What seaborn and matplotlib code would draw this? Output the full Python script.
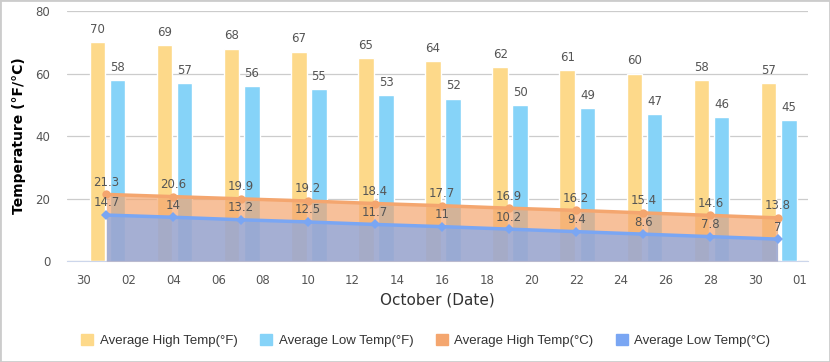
import pandas as pd
import numpy as np
import matplotlib
matplotlib.use('Agg')
import matplotlib.pyplot as plt
import matplotlib.dates as mdates
from matplotlib.patches import Patch
import seaborn as sns

# Data
dates = pd.date_range('2023-10-01', '2023-10-31', freq='3D')
high_f = [70, 69, 68, 67, 65, 64, 62, 61, 60, 58, 57]
low_f = [58, 57, 56, 55, 53, 52, 50, 49, 47, 46, 45]
high_c = [21.3, 20.6, 19.9, 19.2, 18.4, 17.7, 16.9, 16.2, 15.4, 14.6, 13.8]
low_c = [14.7, 14, 13.2, 12.5, 11.7, 11, 10.2, 9.4, 8.6, 7.8, 7]
tick_dates = pd.date_range('2023-09-30', '2023-11-01', freq='2D')

c_high_f = '#fdd98a'
c_low_f = '#86d3f8'
c_high_c = '#f4a66f'
c_low_c = '#7aa6f3'
txt = '#555555'

sns.set_style('white')
plt.rcParams['font.family'] = ['DejaVu Sans']

df = pd.DataFrame({'date': dates, 'high_f': high_f, 'low_f': low_f,
                   'high_c': high_c, 'low_c': low_c})
df['x'] = mdates.date2num(df['date'])

fig = plt.figure(figsize=(8.3, 3.62), dpi=100)
ax = fig.add_axes([0.0807, 0.279, 0.8928, 0.6906])

# bars (°F)
ax.bar(df['x'] - 0.4, df['high_f'], width=0.7, color=c_high_f, zorder=2)
ax.bar(df['x'] + 0.5, df['low_f'], width=0.7, color=c_low_f, zorder=2)
for x, v in zip(df['x'], df['high_f']):
    ax.text(x - 0.4, v + 2, str(v), ha='center', va='bottom', fontsize=8.5, color=txt, zorder=6)
for x, v in zip(df['x'], df['low_f']):
    ax.text(x + 0.5, v + 2, str(v), ha='center', va='bottom', fontsize=8.5, color=txt, zorder=6)

# areas (°C)
ax.fill_between(df['x'], df['high_c'], 0, color=c_high_c, alpha=0.7, lw=0, zorder=3)
ax.fill_between(df['x'], df['low_c'], 0, color=c_low_c, alpha=0.65, lw=0, zorder=4)
sns.lineplot(data=df, x='x', y='high_c', color=c_high_c, lw=2.5, marker='o',
             markersize=6, markeredgewidth=0, ax=ax, zorder=5)
sns.lineplot(data=df, x='x', y='low_c', color=c_low_c, lw=2.5, marker='D',
             markersize=5, markeredgewidth=0, ax=ax, zorder=5)
for x, v in zip(df['x'], df['high_c']):
    ax.text(x, v + 1.8, f'{v:g}', ha='center', va='bottom', fontsize=8.5, color=txt, zorder=6)
for x, v in zip(df['x'], df['low_c']):
    ax.text(x, v + 1.8, f'{v:g}', ha='center', va='bottom', fontsize=8.5, color=txt, zorder=6)

x0 = mdates.date2num(pd.Timestamp('2023-09-30'))
ax.set_xlim(x0 - 0.76, x0 + 32.36)
ax.set_ylim(0, 80)
ax.set_yticks([0, 20, 40, 60, 80])
ax.set_xticks(mdates.date2num(tick_dates))
ax.set_xticklabels([d.strftime('%d') for d in tick_dates])
ax.grid(axis='y', color='#cccccc', lw=0.9, zorder=0)
ax.set_axisbelow(True)
for s in ['top', 'right', 'left']:
    ax.spines[s].set_visible(False)
ax.spines['bottom'].set_color('#ccd6eb')
ax.tick_params(axis='x', length=6, color='#ccd6eb', labelsize=8.5, labelcolor=txt, pad=3)
ax.tick_params(axis='y', length=0, labelsize=8.5, labelcolor=txt, pad=12)
ax.set_xlabel('October (Date)', fontsize=11, color='#333333', labelpad=4)
ax.set_ylabel('Temperature (°F/°C)', fontsize=10, fontweight='bold', color='black', labelpad=7)

handles = [Patch(color=c_high_f), Patch(color=c_low_f), Patch(color=c_high_c), Patch(color=c_low_c)]
labels = ['Average High Temp(°F)', 'Average Low Temp(°F)', 'Average High Temp(°C)', 'Average Low Temp(°C)']
fig.legend(handles, labels, loc='center', bbox_to_anchor=(0.513, 0.06), ncol=4, frameon=False,
           prop={'family': 'Liberation Sans', 'size': 9.5}, labelcolor='#333333',
           handlelength=0.9, handleheight=0.9, handletextpad=0.5, columnspacing=1.7)

fig.patches.append(plt.Rectangle((0, 0), 1, 1, transform=fig.transFigure, fill=False,
                                 edgecolor='#cccccc', lw=2))
fig.savefig('out.png', dpi=100)
